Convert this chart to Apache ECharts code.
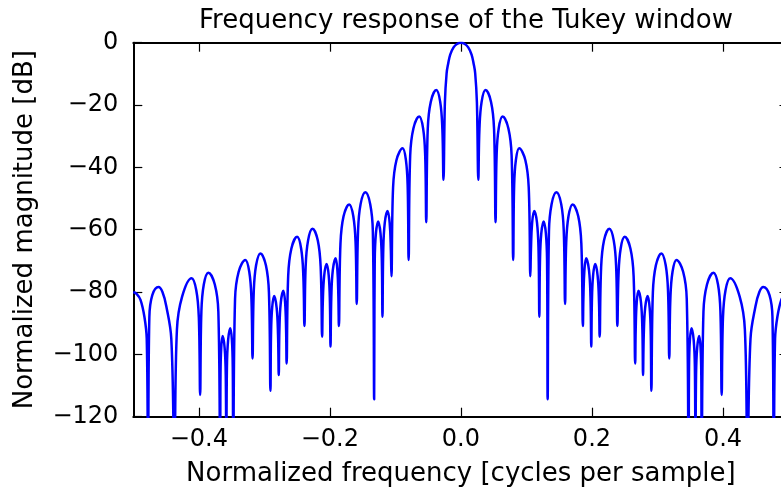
<!DOCTYPE html>
<html><head><meta charset="utf-8">
<script src="https://cdn.jsdelivr.net/npm/echarts@6/dist/echarts.min.js"></script>
<style>html,body{margin:0;padding:0;background:#fff}#c{width:781px;height:495px}</style>
</head><body><div id="c"></div>
<script>
// Frequency (cycles per sample) and magnitude (dB)
const frequency = [
  -0.5, -0.495, -0.489, -0.483, -0.4795, -0.4775,
  -0.4755, -0.471, -0.4615, -0.4555, -0.4497, -0.442, -0.4373,
  -0.4334, -0.4255, -0.411, -0.4039, -0.4, -0.398,
  -0.3961, -0.3924, -0.3855, -0.3756, -0.3702, -0.3675,
  -0.3669, -0.3658, -0.3637, -0.3606, -0.3589, -0.358,
  -0.3571, -0.3553, -0.352, -0.3495, -0.3482, -0.3475,
  -0.3447, -0.3392, -0.329, -0.323, -0.3197, -0.318,
  -0.3162, -0.3126, -0.306, -0.2976, -0.293, -0.2907,
  -0.2898, -0.2881, -0.285, -0.2812, -0.2791, -0.278,
  -0.277, -0.2749, -0.271, -0.2683, -0.2668, -0.266,
  -0.2636, -0.2588, -0.25, -0.2438, -0.2405, -0.2388,
  -0.237, -0.2333, -0.2265, -0.2184, -0.214, -0.2118,
  -0.2108, -0.2087, -0.205, -0.2017, -0.1999, -0.199,
  -0.1978, -0.1955, -0.1912, -0.1885, -0.187, -0.1862,
  -0.1838, -0.1791, -0.1705, -0.1642, -0.1607, -0.159,
  -0.157, -0.1531, -0.1458, -0.1384, -0.1344, -0.1324,
  -0.1315, -0.1297, -0.1263, -0.1227, -0.1207, -0.1197,
  -0.1185, -0.1162, -0.112, -0.1087, -0.1069, -0.106,
  -0.1035, -0.0984, -0.089, -0.0839, -0.0812, -0.0798,
  -0.0774, -0.0725, -0.0636, -0.0577, -0.0545, -0.0529,
  -0.0506, -0.046, -0.0376, -0.0316, -0.0283, -0.0266,
  -0.0244, -0.0218, -0.0195, -0.0163, -0.0112, -0.006, 0, 0.006, 0.0112, 0.0163, 0.0195, 0.0218, 0.0244,
  0.0266, 0.0283, 0.0316, 0.0376, 0.046, 0.0506,
  0.0529, 0.0545, 0.0577, 0.0636, 0.0725, 0.0774,
  0.0798, 0.0812, 0.0839, 0.089, 0.0984, 0.1035,
  0.106, 0.1069, 0.1087, 0.112, 0.1162, 0.1185,
  0.1197, 0.1207, 0.1227, 0.1263, 0.1297, 0.1315,
  0.1324, 0.1344, 0.1384, 0.1458, 0.1531, 0.157,
  0.159, 0.1607, 0.1642, 0.1705, 0.1791, 0.1838,
  0.1862, 0.187, 0.1885, 0.1912, 0.1955, 0.1978,
  0.199, 0.1999, 0.2017, 0.205, 0.2087, 0.2108,
  0.2118, 0.214, 0.2184, 0.2265, 0.2333, 0.237,
  0.2388, 0.2405, 0.2438, 0.25, 0.2588, 0.2636,
  0.266, 0.2668, 0.2683, 0.271, 0.2749, 0.277,
  0.278, 0.2791, 0.2812, 0.285, 0.2881, 0.2898,
  0.2907, 0.293, 0.2976, 0.306, 0.3126, 0.3162,
  0.318, 0.3197, 0.323, 0.329, 0.3392, 0.3447,
  0.3475, 0.3482, 0.3495, 0.352, 0.3553, 0.3571,
  0.358, 0.3589, 0.3606, 0.3637, 0.3658, 0.3669,
  0.3675, 0.3702, 0.3756, 0.3855, 0.3924, 0.3961,
  0.398, 0.4, 0.4039, 0.411, 0.4255, 0.4334,
  0.4373, 0.442, 0.4497, 0.4555, 0.4615, 0.471, 0.4755,
  0.4775, 0.4795, 0.483, 0.489, 0.495, 0.5
];
const magnitudeDb = [
  -80, -80.6, -82.5, -88, -95, -135,
  -88, -81, -78.4, -80, -84.5, -95, -135,
  -92, -81.5, -75.6, -79.4, -88.1, -113,
  -86.3, -77.6, -73.8, -77.6, -86.3, -135,
  -106.6, -97.9, -94.1, -97.9, -106.6, -135,
  -104.1, -95.4, -91.6, -95.4, -104.1, -135,
  -82.2, -73.5, -69.7, -73.5, -82.2, -101.3,
  -80.1, -71.4, -67.6, -71.4, -80.1, -111.7,
  -93.8, -85.1, -81.3, -85.1, -93.8, -106.6,
  -92.1, -83.4, -79.6, -83.4, -92.1, -102.9,
  -74.8, -66.1, -62.3, -66.1, -74.8, -90.9,
  -72.2, -63.5, -59.7, -63.5, -72.2, -94.3,
  -83.5, -74.8, -71, -74.8, -83.5, -97.5,
  -81.7, -73, -69.2, -73, -81.7, -90.9,
  -64.4, -55.7, -51.9, -55.7, -64.4, -83.8,
  -60.5, -51.8, -48, -51.8, -60.5, -114.4,
  -69.9, -61.2, -57.4, -61.2, -69.9, -87.9,
  -66.5, -57.8, -54, -57.8, -66.5, -74.9,
  -46.4, -37.7, -33.9, -37.7, -46.4, -69.7,
  -36.2, -27.5, -23.7, -27.5, -36.2, -57.6,
  -27.7, -19, -15.2, -19, -27.7, -44,
  -19, -9.8, -6.8, -3.8, -1.5, -0.4, 0, -0.4, -1.5, -3.8, -6.8, -9.8, -19,
  -44, -27.7, -19, -15.2, -19, -27.7,
  -57.6, -36.2, -27.5, -23.7, -27.5, -36.2,
  -69.7, -46.4, -37.7, -33.9, -37.7, -46.4,
  -74.9, -66.5, -57.8, -54, -57.8, -66.5,
  -87.9, -69.9, -61.2, -57.4, -61.2, -69.9,
  -114.4, -60.5, -51.8, -48, -51.8, -60.5,
  -83.8, -64.4, -55.7, -51.9, -55.7, -64.4,
  -90.9, -81.7, -73, -69.2, -73, -81.7,
  -97.5, -83.5, -74.8, -71, -74.8, -83.5,
  -94.3, -72.2, -63.5, -59.7, -63.5, -72.2,
  -90.9, -74.8, -66.1, -62.3, -66.1, -74.8,
  -102.9, -92.1, -83.4, -79.6, -83.4, -92.1,
  -106.6, -93.8, -85.1, -81.3, -85.1, -93.8,
  -111.7, -80.1, -71.4, -67.6, -71.4, -80.1,
  -101.3, -82.2, -73.5, -69.7, -73.5, -82.2,
  -135, -104.1, -95.4, -91.6, -95.4, -104.1,
  -135, -106.6, -97.9, -94.1, -97.9, -106.6,
  -135, -86.3, -77.6, -73.8, -77.6, -86.3,
  -113, -88.1, -79.4, -75.6, -81.5, -92,
  -135, -95, -84.5, -80, -78.4, -81, -88,
  -135, -95, -88, -82.5, -80.6, -80
];
const xTickValues = [-0.4, -0.2, 0, 0.2, 0.4];
const xTickLabels = ['\u22120.4', '\u22120.2', '0.0', '0.2', '0.4'];
const yTickValues = [0, -20, -40, -60, -80, -100, -120];
const yTickLabels = ['0', '\u221220', '\u221240', '\u221260', '\u221280', '\u2212100', '\u2212120'];
const titleText = 'Frequency response of the Tukey window';
const xAxisName = 'Normalized frequency [cycles per sample]';
const yAxisName = 'Normalized magnitude [dB]';

if (frequency.length !== magnitudeDb.length) console.error('length mismatch', frequency.length, magnitudeDb.length);
const points = frequency.map((f, i) => [f, magnitudeDb[i]]);

const FONT = 'DejaVu Sans';
const axisLineStyle = { show: true, onZero: false, lineStyle: { color: '#000', width: 2 } };
const tickStyle = { show: true, inside: true, length: 9, lineStyle: { color: '#000', width: 1.2 } };

const chart = echarts.init(document.getElementById('c'), null, { renderer: 'canvas' });
chart.setOption({
  animation: false,
  backgroundColor: '#fff',
  title: {
    text: titleText, left: 461, top: 3, textAlign: 'center',
    textStyle: { fontFamily: FONT, fontSize: 26, fontWeight: 'normal', color: '#000' }
  },
  grid: { left: 133.3, top: 42.7, width: 655.2, height: 374, containLabel: false, outerBoundsMode: 'none' },
  xAxis: [{
    type: 'value', min: -0.5, max: 0.5, position: 'bottom',
    name: xAxisName, nameLocation: 'middle', nameGap: 45,
    nameTextStyle: { fontFamily: FONT, fontSize: 26, color: '#000' },
    axisLine: axisLineStyle,
    axisTick: Object.assign({ customValues: xTickValues }, tickStyle),
    axisLabel: {
      customValues: xTickValues, margin: 11,
      formatter: v => xTickLabels[xTickValues.findIndex(t => Math.abs(t - v) < 1e-9)],
      fontFamily: FONT, fontSize: 24, color: '#000'
    },
    splitLine: { show: false }
  }, {
    type: 'value', min: -0.5, max: 0.5, position: 'top',
    axisLine: axisLineStyle,
    axisTick: Object.assign({ customValues: xTickValues }, tickStyle),
    axisLabel: { show: false, customValues: xTickValues },
    splitLine: { show: false }
  }],
  yAxis: [{
    type: 'value', min: -120, max: 0, interval: 20, position: 'left',
    name: yAxisName, nameLocation: 'middle', nameGap: 95, nameRotate: 90,
    nameTextStyle: { fontFamily: FONT, fontSize: 26, color: '#000' },
    axisLine: axisLineStyle,
    axisTick: Object.assign({ customValues: yTickValues }, tickStyle),
    axisLabel: {
      customValues: yTickValues, margin: 15,
      formatter: v => yTickLabels[yTickValues.findIndex(t => Math.abs(t - v) < 1e-9)],
      fontFamily: FONT, fontSize: 24, color: '#000'
    },
    splitLine: { show: false }
  }, {
    type: 'value', min: -120, max: 0, interval: 20, position: 'right',
    axisLine: axisLineStyle,
    axisTick: Object.assign({ customValues: yTickValues }, tickStyle),
    axisLabel: { show: false },
    splitLine: { show: false }
  }],
  series: [{
    type: 'line', data: points, xAxisIndex: 0, yAxisIndex: 0,
    showSymbol: false, smooth: 0.4, clip: true,
    lineStyle: { color: '#0000ff', width: 2.5 }
  }]
});
</script>
</body></html>
